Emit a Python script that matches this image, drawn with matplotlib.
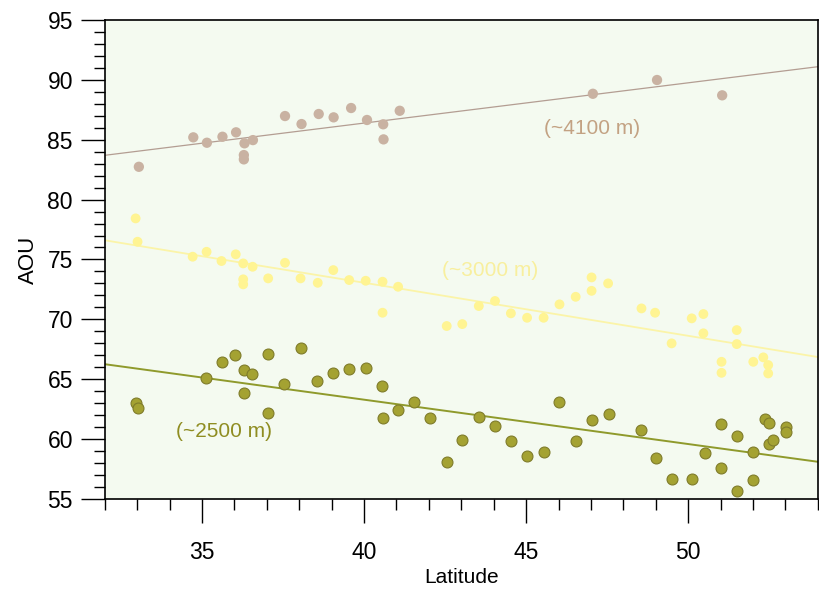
import numpy as np
import matplotlib.pyplot as plt
from matplotlib.ticker import MultipleLocator

plt.rcParams['font.family'] = ['Liberation Sans', 'DejaVu Sans']

# --- data ---
# ~4100 m
lat_4100 = [33.05, 34.73, 35.15, 35.63, 36.05, 36.31, 36.57, 36.29, 36.29, 37.56, 38.07,
            38.6, 39.06, 39.6, 40.09, 40.59, 40.6, 41.1, 47.06, 49.04, 51.05]
aou_4100 = [82.74, 85.2, 84.75, 85.25, 85.62, 84.7, 84.97, 83.72, 83.36, 86.98, 86.31,
            87.15, 86.87, 87.65, 86.65, 86.29, 85.03, 87.42, 88.84, 89.99, 88.71]

# ~3000 m
lat_3000 = [32.95, 33.01, 34.71, 35.14, 35.6, 36.04, 36.27, 36.27, 36.27, 36.56, 37.04,
            37.56, 38.04, 38.57, 39.05, 39.54, 40.05, 40.57, 40.57, 41.05, 42.55, 43.03,
            43.54, 44.04, 44.53, 45.03, 45.54, 46.03, 46.53, 47.02, 47.02, 47.53, 48.56,
            48.98, 49.49, 50.11, 50.47, 50.47, 51.5, 51.5, 51.03, 51.03, 52.01, 52.32,
            52.47, 52.47]
aou_3000 = [78.43, 76.48, 75.23, 75.64, 74.87, 75.43, 74.67, 73.34, 72.92, 74.39, 73.42,
            74.72, 73.42, 73.05, 74.11, 73.28, 73.22, 73.14, 70.55, 72.72, 69.44, 69.6,
            71.11, 71.53, 70.5, 70.13, 70.13, 71.25, 71.88, 73.5, 72.38, 73.0, 70.91,
            70.55, 67.99, 70.08, 70.44, 68.83, 69.1, 67.93, 66.45, 65.53, 66.45, 66.82,
            66.18, 65.48]

# ~2500 m
lat_2500 = [32.95, 33.01, 35.12, 35.61, 36.03, 36.28, 36.54, 36.28, 37.05, 37.04, 37.52,
            38.06, 38.55, 39.04, 39.55, 40.06, 40.55, 40.57, 41.05, 41.54, 42.04, 42.55,
            43.03, 43.54, 44.04, 44.53, 45.03, 45.54, 46.03, 46.53, 47.04, 47.55, 48.54,
            49.01, 49.5, 50.12, 50.51, 51.02, 51.02, 51.52, 51.52, 52.01, 52.01, 52.37,
            52.5, 52.5, 52.61, 53.01, 53.01]
aou_2500 = [62.98, 62.59, 65.12, 66.4, 67.04, 65.76, 65.43, 63.84, 67.12, 62.19, 64.62,
            67.62, 64.82, 65.53, 65.82, 65.9, 64.42, 61.78, 62.39, 63.09, 61.75, 58.1,
            59.91, 61.86, 61.11, 59.85, 58.55, 58.93, 63.11, 59.83, 61.56, 62.06, 60.75,
            58.38, 56.63, 56.63, 58.83, 61.25, 57.6, 60.22, 55.65, 58.93, 56.55, 61.64,
            61.33, 59.58, 59.91, 61.02, 60.56]

# trend lines (value at 32 and 54 deg latitude)
fit_lat = [32, 54]
fit_4100 = [83.7, 91.1]
fit_3000 = [76.6, 66.85]
fit_2500 = [66.25, 58.1]

fig = plt.figure(figsize=(8.19, 5.89), dpi=100)
ax = fig.add_axes([0.128, 0.153, 0.8705, 0.813])
ax.set_facecolor('#f4faf0')

ax.plot(fit_lat, fit_4100, color='#b39d92', lw=0.9, zorder=2)
ax.plot(fit_lat, fit_3000, color='#fbf4a8', lw=1.3, zorder=2)
ax.plot(fit_lat, fit_2500, color='#8f9a2c', lw=1.4, zorder=2)

ax.scatter(lat_4100, aou_4100, s=55, color='#c9b2a2', edgecolors='none', zorder=3)
ax.scatter(lat_3000, aou_3000, s=50, color='#fff493', edgecolors='none', zorder=3)
ax.scatter(lat_2500, aou_2500, s=62, color='#a4a232', edgecolors='#7f7c2a', linewidths=0.8, zorder=3)

ax.text(45.55, 85.95, '(~4100 m)', color='#c3a283', fontsize=15, va='center')
ax.text(42.4, 74.1, '(~3000 m)', color='#f8ef9e', fontsize=15, va='center')
ax.text(34.2, 60.6, '(~2500 m)', color='#8f8d22', fontsize=15, va='center')

ax.set_xlim(32, 54)
ax.set_ylim(55, 95)
ax.xaxis.set_major_locator(MultipleLocator(5))
ax.xaxis.set_minor_locator(MultipleLocator(1))
ax.yaxis.set_major_locator(MultipleLocator(5))
ax.yaxis.set_minor_locator(MultipleLocator(1))
ax.tick_params(which='major', direction='out', length=17, width=1.0, labelsize=16.5)
ax.tick_params(axis='x', which='major', pad=13)
ax.tick_params(axis='y', which='major', pad=6)
ax.tick_params(which='minor', direction='out', length=8, width=1.0)
ax.tick_params(top=False, right=False)
for sp in ax.spines.values():
    sp.set_linewidth(1.2)

ax.set_xlabel('Latitude', fontsize=15, labelpad=3)
ax.set_ylabel('AOU', fontsize=16, labelpad=6)

fig.savefig('out.png', dpi=100)
